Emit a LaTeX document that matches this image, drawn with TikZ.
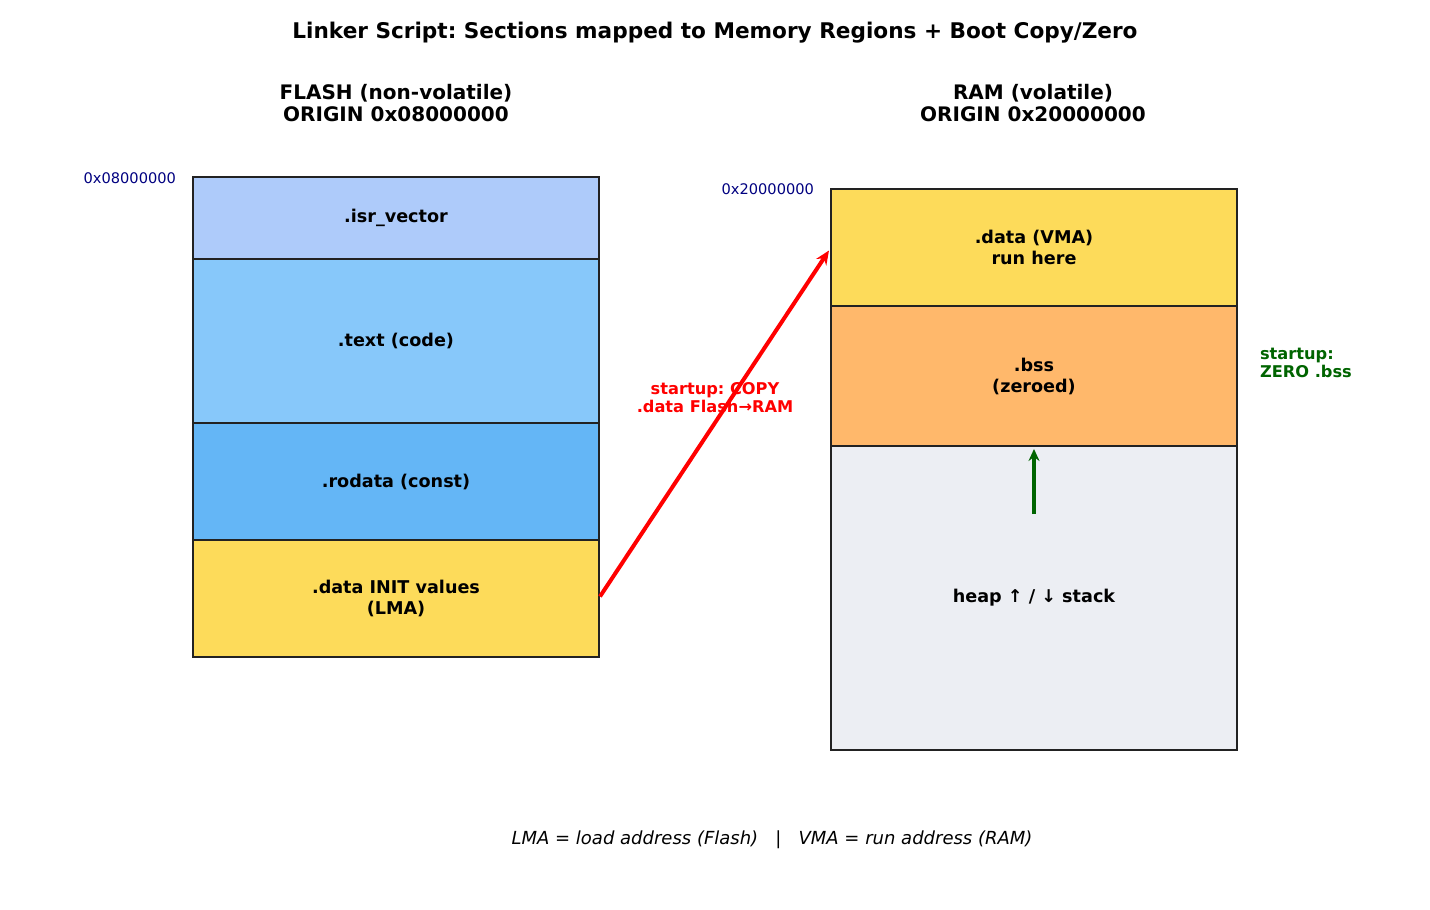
\documentclass[tikz,border=0pt]{standalone}
\usepackage{fontspec}
\setmainfont{DejaVu Sans}
\usetikzlibrary{arrows.meta}
\frenchspacing
\definecolor{cisr}{HTML}{AECBFA}
\definecolor{ctext}{HTML}{87C8FA}
\definecolor{crod}{HTML}{64B6F6}
\definecolor{cdata}{HTML}{FDDB5A}
\definecolor{cbss}{HTML}{FFB86B}
\definecolor{cheap}{HTML}{ECEEF3}
\definecolor{cedge}{HTML}{222222}
\definecolor{cnavy}{HTML}{000080}
\definecolor{cgreen}{HTML}{006400}
\tikzset{
  seg/.style={draw=cedge, line width=0.7pt, inner sep=0pt, outer sep=0pt,
    minimum width=203pt, align=center, font=\fontsize{8.8}{10.5}\selectfont\bfseries},
  addr/.style={anchor=east, text=cnavy, font=\fontsize{7.3}{8.5}\selectfont},
  hdr/.style={align=center, font=\fontsize{10}{11}\selectfont\bfseries},
}
\begin{document}
\begin{tikzpicture}[x=0.5pt,y=-0.5pt]
\useasboundingbox (0,0) rectangle (1430,910);
\node[font=\fontsize{10.8}{12}\selectfont\bfseries] (title) at (715,33) {Linker Script: Sections mapped to Memory Regions + Boot Copy/Zero};
\node[hdr] (fhdr) at (396,103) {FLASH (non-volatile)\\ORIGIN 0x08000000};
\node[hdr] (rhdr) at (1033,103) {RAM (volatile)\\ORIGIN 0x20000000};
% Flash
\node[seg, fill=cisr, minimum height=41pt] (isr) at (396,218) {.isr\_vector};
\node[seg, fill=ctext, minimum height=82pt] (text) at (396,341) {.text (code)};
\node[seg, fill=crod, minimum height=58.5pt] (rod) at (396,481.5) {.rodata (const)};
\node[seg, fill=cdata, minimum height=58.5pt] (fdata) at (396,598.5) {.data INIT values\\(LMA)};
\node[addr] (faddr) at (183,178) {0x08000000};
% RAM
\node[seg, fill=cdata, minimum height=58.5pt] (rdata) at (1034,247.5) {.data (VMA)\\run here};
\node[seg, fill=cbss, minimum height=70pt] (bss) at (1034,376) {.bss\\(zeroed)};
\node[seg, fill=cheap, minimum height=152pt] (heap) at (1034,598) {heap ↑ / ↓ stack};
\node[addr] (raddr) at (821,189) {0x20000000};
% copy arrow
\draw[red, line width=2pt, -{Stealth[length=7pt,width=6pt]}] ([xshift=0.5pt,yshift=1pt]fdata.east) -- ([xshift=-1pt,yshift=-1.5pt]rdata.west);
\node[text=red, align=center, font=\fontsize{8.1}{9}\selectfont\bfseries] (copylbl) at (715,398) {startup: COPY\\.data Flash→RAM};
% zero arrow
\coordinate (g0) at (1034,514);
\coordinate (g1) at (1034,449);
\draw[cgreen, line width=1.6pt, -{Stealth[length=6pt,width=5.5pt]}] (g0) -- (g1);
\node[text=cgreen, align=left, anchor=west, font=\fontsize{8.1}{9}\selectfont\bfseries] (zerolbl) at (1253,363) {startup:\\ZERO .bss};
% footer
\node[font=\fontsize{9}{10}\selectfont\itshape] (foot) at (772,840) {LMA = load address (Flash) \ \ | \ \ VMA = run address (RAM)};
\end{tikzpicture}
\end{document}
